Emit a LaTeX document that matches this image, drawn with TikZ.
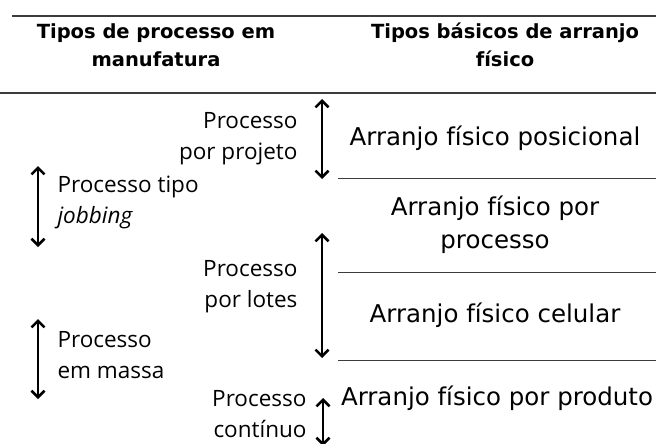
\documentclass[tikz,border=0pt]{standalone}
\usepackage{fontspec}
\setmainfont{Open Sans}
\newfontfamily\layoutfont{DejaVu Sans}
\usetikzlibrary{arrows.meta}
\definecolor{rulegray}{HTML}{3c3c3c}
\def\xsplit{338}
\def\xright{656}
\newcommand{\rangearrow}[4]{
  \coordinate (#1-top) at (#2, #3);
  \coordinate (#1-bot) at (#2, #4);
  \draw[spanarrow] (#1-top) -- (#1-bot);
}

\begin{document}
\begin{tikzpicture}[x=1pt, y=-1pt,
    spanarrow/.style={{Straight Barb[length=6.5pt,width=13pt]}-{Straight Barb[length=6.5pt,width=13pt]}, line width=2.5pt},
    head/.style={font=\layoutfont\bfseries\fontsize{19.5}{28}\selectfont, align=center},
    proc/.style={font=\fontsize{22.5}{31}\selectfont},
    lay/.style={font=\layoutfont\fontsize{24.5}{33}\selectfont, align=center}]
    \useasboundingbox (0,0) rectangle (656,444);
    % header
    \node[head] (hproc) at (156, 45) {Tipos de processo em\\manufatura};
    \node[head] (hlay) at (505, 45) {Tipos básicos de arranjo\\físico};
    \coordinate (top-l) at (12, 16);
    \coordinate (top-r) at (\xright, 16);
    \coordinate (head-l) at (0, 93);
    \coordinate (head-r) at (\xright, 93);
    \draw[rulegray, line width=1.6pt] (top-l) -- (top-r);
    \draw[rulegray, line width=1.6pt] (head-l) -- (head-r);
    % separators on the right
    \foreach \y/\name in {178/sa, 272/sb, 360/sc} {
      \coordinate (\name-l) at (\xsplit, \y);
      \coordinate (\name-r) at (\xright, \y);
      \draw[rulegray, line width=0.9pt] (\name-l) -- (\name-r);
    }
    % arrows
    \rangearrow{projeto}{322}{99}{179}
    \rangearrow{jobbing}{38}{166}{247}
    \rangearrow{lotes}{322}{233}{358}
    \rangearrow{massa}{38}{319}{399}
    \rangearrow{continuo}{323}{398}{446}
    % process types
    \node[proc, align=right, anchor=east] (pprojeto) at (301, 139) {Processo\\por projeto};
    \node[proc, align=left, anchor=west] (pjobbing) at (54, 202) {Processo tipo\\\textit{jobbing}};
    \node[proc, align=right, anchor=east] (plotes) at (301, 287) {Processo\\por lotes};
    \node[proc, align=left, anchor=west] (pmassa) at (54, 355) {Processo\\em massa};
    \node[proc, align=right, anchor=east] (pcontinuo) at (310, 414) {Processo\\contínuo};
    % layout types
    \node[lay] (lposicional) at (495, 138) {Arranjo físico posicional};
    \node[lay] (lprocesso) at (495, 225) {Arranjo físico por\\processo};
    \node[lay] (lcelular) at (495, 315) {Arranjo físico celular};
    \node[lay] (lproduto) at (497, 398) {Arranjo físico por produto};
\end{tikzpicture}
\end{document}
